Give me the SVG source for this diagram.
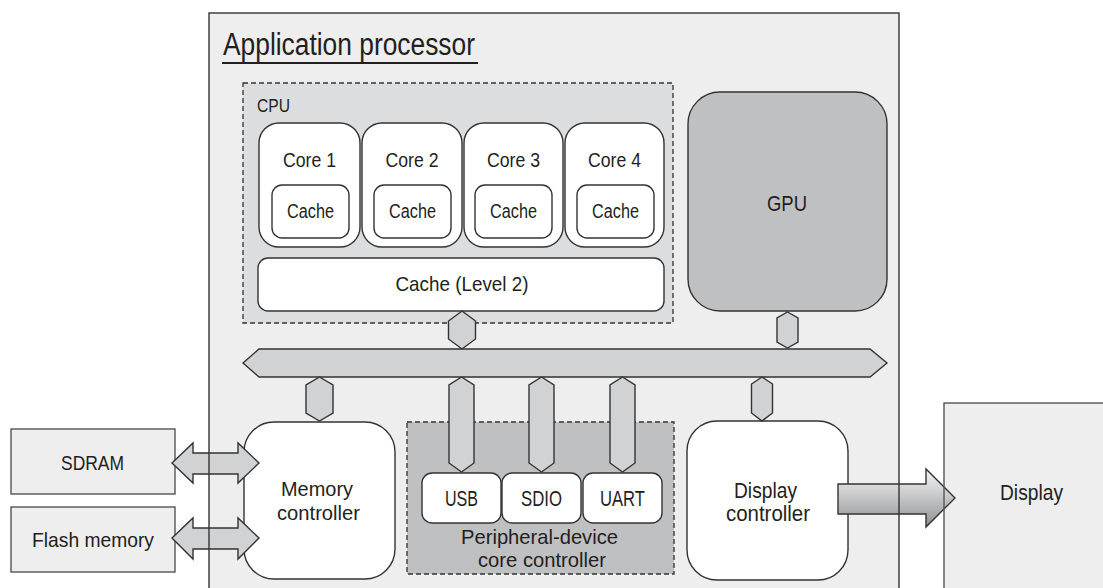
<svg xmlns="http://www.w3.org/2000/svg" width="1103" height="588" viewBox="0 0 1103 588">
<defs>
<style>
text{font-family:"Liberation Sans",Arial,sans-serif;fill:#231f20;text-anchor:middle}
.frame{fill:#eeeeee;stroke:none}
.edge{fill:none;stroke:#333;stroke-width:1.4}
.wbox{fill:#ffffff;stroke:#333;stroke-width:1.4}
.dash{stroke:#333;stroke-width:1.3;stroke-dasharray:5 3}
.conn{fill:#d1d2d4;stroke:#333;stroke-width:1.4;stroke-linejoin:miter}
.ext{fill:#eeeeee;stroke:#555;stroke-width:1.4}
</style>
<linearGradient id="gArrow" x1="0" y1="0" x2="0" y2="1">
<stop offset="0" stop-color="#f4f4f4"/>
<stop offset="0.5" stop-color="#c4c5c7"/>
<stop offset="1" stop-color="#8e8f91"/>
</linearGradient>
</defs>
<rect width="1103" height="588" fill="#ffffff"/>

<g id="application-processor">
<rect class="frame" x="209" y="13" width="690" height="590"/>
<text x="223" y="55" font-size="31" textLength="252" lengthAdjust="spacingAndGlyphs" style="text-anchor:start">Application processor</text>
<line x1="222" y1="63" x2="478" y2="63" stroke="#231f20" stroke-width="2"/>
</g>

<g id="display">
<rect class="frame" x="944" y="403" width="170" height="200"/>
<text x="1031.5" y="500" font-size="22" textLength="63" lengthAdjust="spacingAndGlyphs">Display</text>
</g>

<g id="sdram">
<rect class="ext" x="11" y="429" width="164" height="65"/>
<text x="92.5" y="470" font-size="21" textLength="63" lengthAdjust="spacingAndGlyphs">SDRAM</text>
</g>
<g id="flash-memory">
<rect class="ext" x="11" y="507" width="164" height="65"/>
<text x="93" y="547" font-size="21" textLength="122" lengthAdjust="spacingAndGlyphs">Flash memory</text>
</g>

<g id="cpu">
<rect x="243" y="83" width="430" height="240" fill="#dcdddf" class="dash"/>
<text x="257" y="112" font-size="19" textLength="33" lengthAdjust="spacingAndGlyphs" style="text-anchor:start">CPU</text>
</g>

<g id="core1">
<rect class="wbox" x="259" y="123" width="101" height="124" rx="20"/>
<text x="309.5" y="167" font-size="20" textLength="53" lengthAdjust="spacingAndGlyphs">Core 1</text>
<rect class="wbox" x="272" y="185" width="77" height="53" rx="10"/>
<text x="310.5" y="218" font-size="20" textLength="47" lengthAdjust="spacingAndGlyphs">Cache</text>
</g>
<g id="core2">
<rect class="wbox" x="362" y="123" width="100" height="124" rx="20"/>
<text x="412" y="167" font-size="20" textLength="53" lengthAdjust="spacingAndGlyphs">Core 2</text>
<rect class="wbox" x="374" y="185" width="77" height="53" rx="10"/>
<text x="412.5" y="218" font-size="20" textLength="47" lengthAdjust="spacingAndGlyphs">Cache</text>
</g>
<g id="core3">
<rect class="wbox" x="464" y="123" width="99" height="124" rx="20"/>
<text x="513.5" y="167" font-size="20" textLength="53" lengthAdjust="spacingAndGlyphs">Core 3</text>
<rect class="wbox" x="475" y="185" width="77" height="53" rx="10"/>
<text x="513.5" y="218" font-size="20" textLength="47" lengthAdjust="spacingAndGlyphs">Cache</text>
</g>
<g id="core4">
<rect class="wbox" x="565" y="123" width="99" height="124" rx="20"/>
<text x="614.5" y="167" font-size="20" textLength="53" lengthAdjust="spacingAndGlyphs">Core 4</text>
<rect class="wbox" x="577" y="185" width="77" height="53" rx="10"/>
<text x="615.5" y="218" font-size="20" textLength="47" lengthAdjust="spacingAndGlyphs">Cache</text>
</g>
<g id="cache-l2">
<rect class="wbox" x="258" y="258" width="406" height="53" rx="10"/>
<text x="462" y="291" font-size="21" textLength="133" lengthAdjust="spacingAndGlyphs">Cache (Level 2)</text>
</g>

<g id="gpu">
<rect x="688" y="92" width="199" height="219" rx="32" fill="#bfc0c2" stroke="#333" stroke-width="1.4"/>
<text x="787" y="211" font-size="22" textLength="40" lengthAdjust="spacingAndGlyphs">GPU</text>
</g>

<g id="memory-controller">
<rect class="wbox" x="244" y="422" width="151" height="157" rx="30"/>
<text x="317" y="496" font-size="21" textLength="72" lengthAdjust="spacingAndGlyphs">Memory</text>
<text x="318.5" y="520" font-size="21" textLength="83" lengthAdjust="spacingAndGlyphs">controller</text>
</g>

<g id="peripheral-controller">
<rect x="407" y="422" width="267" height="152" fill="#bfc0c2" class="dash"/>
<text x="539.5" y="544" font-size="21" textLength="157" lengthAdjust="spacingAndGlyphs">Peripheral-device</text>
<text x="542" y="567" font-size="21" textLength="128" lengthAdjust="spacingAndGlyphs">core controller</text>
</g>
<g id="usb">
<rect class="wbox" x="422" y="473" width="79" height="50" rx="10"/>
<text x="461.5" y="506" font-size="22" textLength="33" lengthAdjust="spacingAndGlyphs">USB</text>
</g>
<g id="sdio">
<rect class="wbox" x="502" y="473" width="79" height="50" rx="10"/>
<text x="541.5" y="506" font-size="22" textLength="41" lengthAdjust="spacingAndGlyphs">SDIO</text>
</g>
<g id="uart">
<rect class="wbox" x="583" y="473" width="79" height="50" rx="10"/>
<text x="622.5" y="506" font-size="22" textLength="45" lengthAdjust="spacingAndGlyphs">UART</text>
</g>

<g id="display-controller">
<rect class="wbox" x="687" y="421" width="161" height="159" rx="30"/>
<text x="765.5" y="498" font-size="22" textLength="63" lengthAdjust="spacingAndGlyphs">Display</text>
<text x="768" y="521" font-size="22" textLength="84" lengthAdjust="spacingAndGlyphs">controller</text>
</g>

<g id="connectors">
<polygon id="bus" class="conn" points="243,363 259,349 870,349 887,363 870,377 259,377"/>
<polygon class="conn" points="462,311 475.5,321 475.5,339 462,349 448.5,339 448.5,321"/>
<polygon class="conn" points="787.5,312 798,318 798,342 787.5,348 777,342 777,318"/>
<polygon class="conn" points="319.5,377 333,385 333,413 319.5,421 306,413 306,385"/>
<polygon class="conn" points="461.5,377 474,385 474,463 461.5,472 449,463 449,385"/>
<polygon class="conn" points="541.5,377 554,385 554,463 541.5,472 529,463 529,385"/>
<polygon class="conn" points="622.5,377 635,385 635,463 622.5,472 610,463 610,385"/>
<polygon class="conn" points="762,377 772.5,384 772.5,413 762,421 751.5,413 751.5,384"/>
<polygon class="conn" points="172,463 193,443 193,453 238,453 238,443 259,463 238,483 238,474 193,474 193,483"/>
<polygon class="conn" points="172,538 193,518 193,528 238,528 238,518 259,538 238,559 238,549 193,549 193,559"/>
<polygon points="838,484 926,484 926,469 955,498 926,527 926,514 838,514" fill="url(#gArrow)" stroke="#333" stroke-width="1.4"/>
</g>

<g id="frame-borders">
<rect class="edge" x="209" y="13" width="690" height="590"/>
<rect fill="none" stroke="#555" stroke-width="1.4" x="944" y="403" width="170" height="200"/>
</g>
</svg>
